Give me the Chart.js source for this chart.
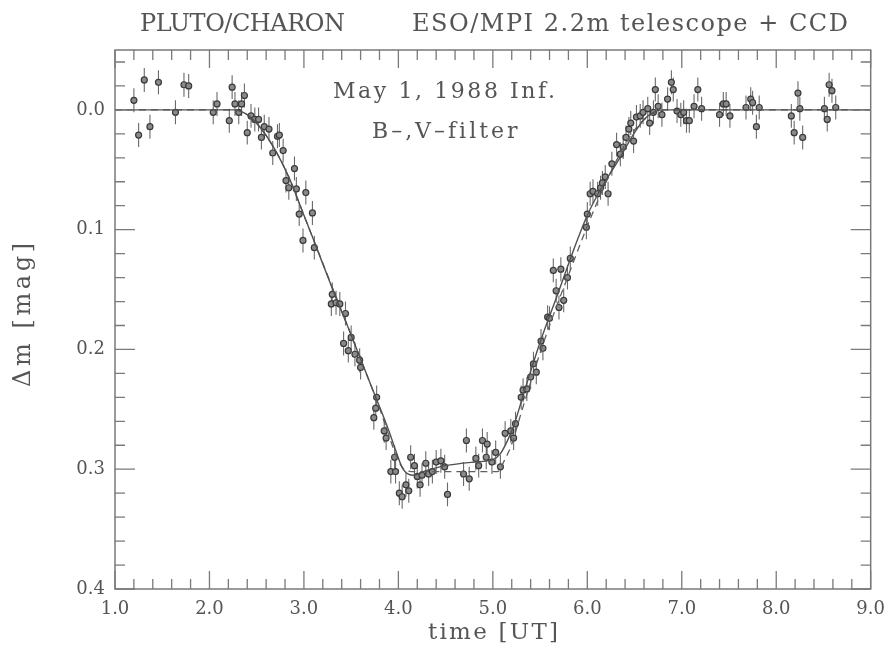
<!DOCTYPE html>
<html>
<head>
<meta charset="utf-8">
<script src="https://cdn.jsdelivr.net/npm/chart.js@4.4.1/dist/chart.umd.min.js"></script>
<style>
  html, body { margin: 0; padding: 0; background: #fff; }
  #wrap { width: 895px; height: 651px; }
</style>
</head>
<body>
<div id="wrap"><canvas id="lightCurve"></canvas></div>
<script>
// Pluto/Charon mutual event, May 1 1988 - observed points + two model curves

const obsTime = [
    1.20, 1.25, 1.31, 1.37, 1.46, 1.64, 1.73, 1.78, 2.04, 2.08,
    2.21, 2.24, 2.27, 2.31, 2.34, 2.37, 2.40, 2.44, 2.48, 2.52,
    2.55, 2.58, 2.63, 2.67, 2.72, 2.74, 2.78, 2.81, 2.84, 2.90,
    2.92, 2.95, 2.99, 3.02, 3.09, 3.11, 3.29, 3.30, 3.34, 3.38,
    3.42, 3.44, 3.47, 3.50, 3.54, 3.59, 3.60, 3.74, 3.76, 3.77,
    3.85, 3.87, 3.92, 3.96, 3.97, 4.01, 4.04, 4.08, 4.11, 4.13,
    4.17, 4.20, 4.23, 4.25, 4.29, 4.32, 4.36, 4.40, 4.45, 4.49,
    4.52, 4.69, 4.72, 4.75, 4.82, 4.85, 4.89, 4.93, 4.94, 4.99,
    5.03, 5.08, 5.13, 5.19, 5.22, 5.24, 5.30, 5.32, 5.36, 5.40,
    5.43, 5.46, 5.51, 5.53, 5.58, 5.60, 5.64, 5.67, 5.70, 5.72,
    5.75, 5.79, 5.82, 5.99, 6.00, 6.03, 6.06, 6.11, 6.14, 6.16,
    6.19, 6.22, 6.26, 6.31, 6.35, 6.38, 6.41, 6.44, 6.46, 6.49,
    6.52, 6.56, 6.59, 6.64, 6.66, 6.70, 6.72, 6.75, 6.79, 6.85,
    6.89, 6.91, 6.95, 6.99, 7.02, 7.05, 7.08, 7.13, 7.17, 7.21,
    7.40, 7.44, 7.47, 7.51, 7.68, 7.73, 7.75, 7.79, 7.82, 8.16,
    8.19, 8.23, 8.25, 8.28, 8.51, 8.54, 8.56, 8.59, 8.63
];
const obsMag = [
    -0.008, 0.021, -0.025, 0.014, -0.023, 0.002, -0.021, -0.020, 0.002, -0.005,
    0.009, -0.019, -0.005, 0.002, -0.005, -0.012, 0.019, 0.005, 0.008, 0.008,
    0.023, 0.014, 0.016, 0.036, 0.022, 0.021, 0.034, 0.059, 0.065, 0.049,
    0.066, 0.087, 0.109, 0.069, 0.086, 0.115, 0.162, 0.154, 0.161, 0.162,
    0.195, 0.170, 0.201, 0.190, 0.204, 0.209, 0.215, 0.257, 0.249, 0.240,
    0.268, 0.274, 0.302, 0.290, 0.302, 0.320, 0.323, 0.313, 0.318, 0.290,
    0.297, 0.306, 0.313, 0.305, 0.295, 0.304, 0.302, 0.294, 0.293, 0.298,
    0.321, 0.304, 0.276, 0.308, 0.291, 0.297, 0.276, 0.290, 0.279, 0.294,
    0.286, 0.298, 0.270, 0.268, 0.274, 0.262, 0.240, 0.234, 0.233, 0.223,
    0.212, 0.219, 0.193, 0.199, 0.173, 0.174, 0.134, 0.151, 0.165, 0.133,
    0.159, 0.140, 0.124, 0.098, 0.087, 0.070, 0.068, 0.070, 0.065, 0.061,
    0.056, 0.070, 0.045, 0.029, 0.037, 0.031, 0.023, 0.016, 0.011, 0.026,
    0.006, 0.005, 0.002, -0.001, 0.011, 0.002, -0.017, -0.003, 0.004, -0.009,
    -0.023, -0.017, 0.001, 0.004, 0.002, 0.009, 0.009, -0.003, -0.017, -0.001,
    0.004, -0.005, -0.005, 0.005, -0.002, -0.009, -0.006, 0.014, -0.002, 0.005,
    0.019, -0.014, -0.001, 0.023, -0.001, 0.008, -0.021, -0.016, -0.002
];
const obsErr = 0.010;

// solid model
const solidTime = [1.0, 2.25, 2.4, 2.55, 2.7, 2.85, 3.0, 3.1, 3.3, 3.5, 3.7, 3.9, 3.97, 4.05, 4.15,
    4.3, 4.5, 4.8, 5.0, 5.08, 5.15, 5.22, 5.33, 5.5, 5.7, 5.85, 6.0, 6.15, 6.33, 6.5, 6.6, 6.7, 6.8, 9.0];
const solidMag = [0, 0, 0.004, 0.016, 0.034, 0.058, 0.088, 0.108, 0.149, 0.188, 0.228, 0.268, 0.284, 0.300, 0.305,
    0.301, 0.297, 0.294, 0.292, 0.287, 0.277, 0.264, 0.236, 0.194, 0.151, 0.118, 0.088, 0.065, 0.042, 0.019, 0.008, 0.002, 0, 0];

// dashed model
const dashedTime = [1.0, 2.25, 2.4, 2.55, 2.7, 2.85, 3.0, 3.2, 3.4, 3.6, 3.8, 3.9, 4.0, 4.08, 4.2,
    5.05, 5.12, 5.2, 5.3, 5.45, 5.6, 5.8, 6.0, 6.2, 6.4, 6.55, 6.7, 6.82, 9.0];
const dashedMag = [0, 0, 0.004, 0.016, 0.034, 0.058, 0.088, 0.128, 0.168, 0.208, 0.249, 0.272, 0.293, 0.301, 0.302,
    0.302, 0.293, 0.279, 0.253, 0.215, 0.180, 0.138, 0.097, 0.060, 0.029, 0.012, 0.003, 0, 0];

const xTicks = [1, 2, 3, 4, 5, 6, 7, 8, 9];
const yTicks = [0, 0.1, 0.2, 0.3, 0.4];

const FONT = '"DejaVu Serif", "Liberation Serif", serif';
const INK = '#555';
const AXIS = '#7a7a7a';

function toPoints(xs, ys) {
    return xs.map((x, i) => ({ x: x, y: ys[i] }));
}

// text stretched between two x positions (the original lettering is wide)
function spacedText(ctx, str, x0, x1, cy, size) {
    ctx.font = size + 'px ' + FONT;
    ctx.letterSpacing = '0px';
    const w = ctx.measureText(str).width;
    const gap = (x1 - x0 - w) / (str.length - 1);
    ctx.letterSpacing = gap + 'px';
    ctx.textAlign = 'left';
    ctx.textBaseline = 'middle';
    ctx.fillText(str, x0, cy);
    ctx.letterSpacing = '0px';
}

const errorBars = {
    id: 'errorBars',
    beforeDatasetsDraw(chart) {
        const ctx = chart.ctx;
        const xs = chart.scales.x, ys = chart.scales.y;
        ctx.save();
        ctx.strokeStyle = '#6a6a6a';
        ctx.lineWidth = 1.1;
        ctx.beginPath();
        obsTime.forEach((t, i) => {
            const px = xs.getPixelForValue(t);
            ctx.moveTo(px, ys.getPixelForValue(obsMag[i] - obsErr));
            ctx.lineTo(px, ys.getPixelForValue(obsMag[i] + obsErr));
        });
        ctx.stroke();
        ctx.restore();
    }
};

const frameAndText = {
    id: 'frameAndText',
    afterDraw(chart) {
        const ctx = chart.ctx;
        const a = chart.chartArea;
        const xs = chart.scales.x, ys = chart.scales.y;
        ctx.save();

        // frame
        ctx.strokeStyle = AXIS;
        ctx.lineWidth = 1.5;
        ctx.strokeRect(a.left, a.top, a.right - a.left, a.bottom - a.top);

        // inward ticks on all four sides
        ctx.lineWidth = 1.3;
        ctx.beginPath();
        for (let k = 0; k <= 40; k++) {
            const v = 1 + k * 0.2;
            const len = k % 5 === 0 ? 18 : 10;
            const px = xs.getPixelForValue(v);
            ctx.moveTo(px, a.bottom); ctx.lineTo(px, a.bottom - len);
            ctx.moveTo(px, a.top); ctx.lineTo(px, a.top + len);
        }
        for (let k = -2; k <= 20; k++) {
            const v = k * 0.02;
            const len = k % 5 === 0 ? 20 : 10;
            const py = ys.getPixelForValue(v);
            ctx.moveTo(a.left, py); ctx.lineTo(a.left + len, py);
            ctx.moveTo(a.right, py); ctx.lineTo(a.right - len, py);
        }
        ctx.stroke();

        // lettering
        ctx.fillStyle = INK;
        spacedText(ctx, 'PLUTO/CHARON', 140, 345, 25, 24);
        spacedText(ctx, 'ESO/MPI 2.2m telescope + CCD', 412, 848, 25, 24);
        spacedText(ctx, 'May 1, 1988 Inf.', 333, 555, 92, 22);
        spacedText(ctx, 'B\u2013,V\u2013filter', 372, 517, 132, 22);
        spacedText(ctx, 'time [UT]', 428, 558, 633, 23);

        ctx.translate(24, 315);
        ctx.rotate(-Math.PI / 2);
        spacedText(ctx, '\u0394m [mag]', -72, 72, 0, 24);
        ctx.restore();
    }
};

new Chart(document.getElementById('lightCurve'), {
    type: 'scatter',
    data: {
        datasets: [
            {
                label: 'solid model',
                data: toPoints(solidTime, solidMag),
                showLine: true,
                borderColor: '#505050',
                borderWidth: 1.4,
                pointRadius: 0,
                cubicInterpolationMode: 'monotone'
            },
            {
                label: 'dashed model',
                data: toPoints(dashedTime, dashedMag),
                showLine: true,
                borderColor: '#606060',
                borderWidth: 1.3,
                borderDash: [7, 5],
                pointRadius: 0,
                cubicInterpolationMode: 'monotone'
            },
            {
                label: 'B, V observations',
                data: toPoints(obsTime, obsMag),
                pointRadius: 3,
                pointBackgroundColor: '#8a8a8a',
                pointBorderColor: '#3a3a3a',
                pointBorderWidth: 1.2
            }
        ]
    },
    options: {
        responsive: true,
        maintainAspectRatio: false,
        animation: false,
        layout: { padding: { left: 0, right: 22, top: 50, bottom: 0 } },
        plugins: {
            legend: { display: false },
            tooltip: { enabled: false }
        },
        scales: {
            x: {
                type: 'linear',
                min: 1,
                max: 9,
                grid: { display: false, drawTicks: false },
                border: { display: false },
                afterBuildTicks: scale => { scale.ticks = xTicks.map(v => ({ value: v })); },
                afterFit: scale => { scale.height = 62; },
                ticks: {
                    padding: 10,
                    color: INK,
                    font: { family: FONT, size: 18 },
                    maxRotation: 0,
                    callback: v => v.toFixed(1)
                }
            },
            y: {
                type: 'linear',
                min: -0.05,
                max: 0.4,
                reverse: true,
                grid: { display: false, drawTicks: false },
                border: { display: false },
                afterBuildTicks: scale => { scale.ticks = yTicks.map(v => ({ value: v })); },
                afterFit: scale => { scale.width = 115; },
                ticks: {
                    padding: 10,
                    color: INK,
                    font: { family: FONT, size: 18 },
                    callback: v => v.toFixed(1)
                }
            }
        }
    },
    plugins: [errorBars, frameAndText]
});
</script>
</body>
</html>
